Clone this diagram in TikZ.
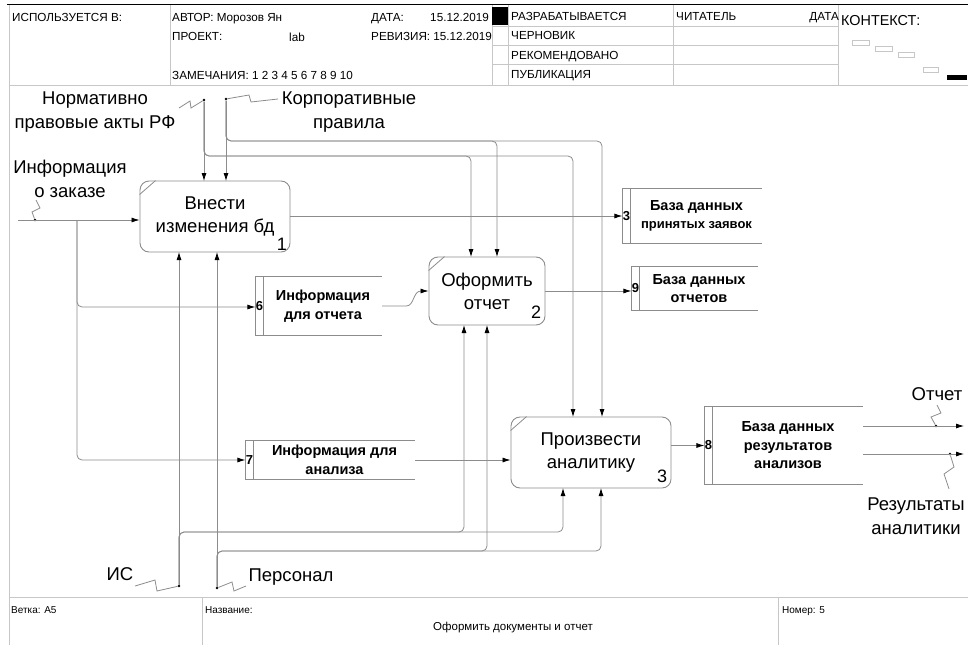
\documentclass[tikz,border=0pt]{standalone}
\usepackage{fontspec}
\setmainfont{Liberation Sans}
\usepackage{tikz}
\usetikzlibrary{arrows.meta}
\usetikzlibrary{positioning}
\colorlet{lines}{black!45}
\colorlet{frame}{black!22}
% open data store: number cell #1 and text cell #2
\newcommand{\storeframe}[2]{%
\draw[StoreLine] (#2.north east) -- (#1.north west) -- (#1.south west) -- (#2.south east);
\draw[StoreLine] (#1.north east) -- (#1.south east)}
% corner mark of an activity box
\newcommand{\boxcorner}[1]{\draw[StoreLine] ([yshift=-14pt]#1.north west) -- ([xshift=16pt]#1.north west)}

\begin{document}
\begin{tikzpicture}[
x=1pt,y=-1pt,
Process/.style={draw=lines,line width=0.9pt,rounded corners=9pt,align=center,inner sep=0pt,font=\fontsize{18.5}{23}\selectfont},
Store/.style={inner sep=0pt,align=center,font=\bfseries\fontsize{14.5}{18.5}\selectfont},
StoreNum/.style={inner sep=0pt,minimum width=8pt,font=\bfseries\fontsize{13}{14}\selectfont},
StoreLine/.style={draw=lines,line width=0.8pt},
Flow/.style={draw=lines,line width=0.8pt,-{Latex[length=8pt,width=5pt,color=black]}},
Line/.style={draw=lines,line width=0.8pt},
Label/.style={align=center,inner sep=0pt,font=\fontsize{18.5}{24}\selectfont},
BoxNum/.style={inner sep=0pt,font=\fontsize{18}{20}\selectfont},
Head/.style={anchor=base west,inner sep=0pt,font=\fontsize{11.7}{13}\selectfont},
Foot/.style={anchor=base west,inner sep=0pt,font=\fontsize{10}{12}\selectfont},
Dot/.style={fill=black,circle,inner sep=0pt,minimum size=2.6pt}
]
\useasboundingbox (0,0) rectangle (968,645);

% frame, header and footer
\draw[black,line width=1.5pt] (7,4.5) -- (968,4.5);
\draw[frame] (9,5) -- (9,645);
\draw[frame] (9,85) -- (968,85);
\draw[frame] (9,597) -- (968,597);
\foreach \xx in {170,492,508,673,838} \draw[frame] (\xx,5) -- (\xx,85);
\foreach \yy in {26,45,64} \draw[frame] (492,\yy) -- (838,\yy);
\draw[frame] (202,597) -- (202,645);
\draw[frame] (778,597) -- (778,645);
\fill[black] (492,7) rectangle (508,25);

\node[Head] (hUsed) at (12,21) {ИСПОЛЬЗУЕТСЯ В:};
\node[Head] (hAuthor) at (172,21) {АВТОР: Морозов Ян};
\node[Head] (hProject) at (172,40) {ПРОЕКТ:};
\node[Head] (hLab) at (289,41) {lab};
\node[Head] (hNotes) at (172,79) {ЗАМЕЧАНИЯ: 1 2 3 4 5 6 7 8 9 10};
\node[Head] (hDate) at (371,21) {ДАТА:};
\node[Head,anchor=base east] (hDateV) at (489,21) {15.12.2019};
\node[Head] (hRev) at (371,40) {РЕВИЗИЯ: 15.12.2019};
\node[Head] (hWork) at (511,20) {РАЗРАБАТЫВАЕТСЯ};
\node[Head] (hDraft) at (511,39.5) {ЧЕРНОВИК};
\node[Head] (hRecom) at (511,59) {РЕКОМЕНДОВАНО};
\node[Head] (hPub) at (511,78) {ПУБЛИКАЦИЯ};
\node[Head] (hReader) at (676,20) {ЧИТАТЕЛЬ};
\node[Head,anchor=base east] (hRDate) at (839,20) {ДАТА};
\node[Head,font=\fontsize{14.4}{16}\selectfont] (hContext) at (841,25) {КОНТЕКСТ:};
\draw[frame,line width=0.8pt] (852,40) rectangle (869,45);
\draw[frame,line width=0.8pt] (875,46) rectangle (892,51);
\draw[frame,line width=0.8pt] (898,52) rectangle (914,57);
\draw[frame,line width=0.8pt] (923,67) rectangle (938,72);
\fill[black] (947,75) rectangle (967,80);

\node[Foot] (fBranch) at (11,613) {Ветка: A5};
\node[Foot] (fName) at (205,613) {Название:};
\node[Foot,anchor=base,font=\fontsize{11.5}{13}\selectfont] (fTitle) at (513,630) {Оформить документы и отчет};
\node[Foot] (fNum) at (782,613) {Номер: 5};

% activities
\node[Process,minimum width=150pt,minimum height=71pt] (B1) at (215,216.5) {Внести\\изменения бд};
\node[BoxNum] (n1) at (282,244) {1};
\node[Process,minimum width=116pt,minimum height=68pt] (B2) at (487,291) {Оформить\\отчет};
\node[BoxNum] (n2) at (536,312) {2};
\node[Process,minimum width=160pt,minimum height=71pt] (B3) at (591,452.5) {Произвести\\аналитику};
\node[BoxNum] (n3b) at (662,476) {3};
\boxcorner{B1};
\boxcorner{B2};
\boxcorner{B3};

% data stores
\node[Store,minimum width=131pt,minimum height=54pt] (S3) at (696.5,216) {База данных\\{\fontsize{13}{14}\selectfont принятых заявок}};
\node[StoreNum,minimum height=54pt,left=0pt of S3] (d3) {3};
\node[Store,minimum width=118pt,minimum height=43pt] (S9) at (699,288.5) {База данных\\отчетов};
\node[StoreNum,minimum height=43pt,left=0pt of S9] (d9) {9};
\node[Store,minimum width=118pt,minimum height=58pt] (S6) at (323,306) {Информация\\для отчета};
\node[StoreNum,minimum height=58pt,left=0pt of S6] (d6) {6};
\node[Store,minimum width=161pt,minimum height=38pt] (S7) at (334.5,460) {Информация для\\анализа};
\node[StoreNum,minimum height=38pt,left=0pt of S7] (d7) {7};
\node[Store,minimum width=150pt,minimum height=77pt] (S8) at (788,445.5) {База данных\\результатов\\анализов};
\node[StoreNum,minimum height=77pt,left=0pt of S8] (d8) {8};
\storeframe{d3}{S3};
\storeframe{d9}{S9};
\storeframe{d6}{S6};
\storeframe{d7}{S7};
\storeframe{d8}{S8};

% outer labels
\node[Label] (lNorm) at (95,112) {Нормативно\\правовые акты РФ};
\node[Label] (lCorp) at (349,112) {Корпоративные\\правила};
\node[Label] (lOrder) at (70,179) {Информация\\о заказе};
\node[Label] (lIS) at (120,574) {ИС};
\node[Label] (lStaff) at (291,577) {Персонал};
\node[Label] (lRep) at (937,394) {Отчет};
\node[Label] (lRes) at (916,516) {Результаты\\аналитики};

% tunnel dots
\node[Dot] (Nd) at (204,100) {};
\node[Dot] (Kd) at (226,99) {};
\node[Dot] (Od) at (35,220) {};
\node[Dot] (Id) at (179,586) {};
\node[Dot] (Pd) at (217,588) {};
\node[Dot] (Rd) at (936,426) {};
\node[Dot] (Ad) at (950,454) {};

% squiggles
\draw[Line] (179,108) -- (190,101) -- (191,108) -- (Nd);
\draw[Line] (Kd) -- (249,95) -- (251,102) -- (278,99);
\draw[Line] (Od) -- (32,212) -- (40,208) -- (36,200);
\draw[Line] (135,586) -- (155,580) -- (157,591) -- (Id);
\draw[Line] (Pd) -- (232,582) -- (234,591) -- (246,586);
\draw[Line] (Rd) -- (931,417) -- (941,413) -- (937,405);
\draw[Line] (Ad) -- (954,467) -- (944,474) -- (949,489);

% ports
\coordinate (in1) at (18,220);
\coordinate (split) at (77,220);
\coordinate (c1a) at (204,181);
\coordinate (c1b) at (226,181);
\coordinate (c2a) at (471,257);
\coordinate (c2b) at (497,257);
\coordinate (c3a) at (573,417);
\coordinate (c3b) at (602,417);
\coordinate (m1a) at (179,252);
\coordinate (m1b) at (217,252);
\coordinate (m2a) at (464,325);
\coordinate (m2b) at (487,325);
\coordinate (m3a) at (563,488);
\coordinate (m3b) at (601,488);
\coordinate (out1) at (964,426);
\coordinate (out2) at (964,454);

% inputs
\draw[Flow] (in1) -- (B1.west |- in1);
\draw[Flow,rounded corners=5pt] (split) |- (d6.west |- 0,307);
\draw[Flow,rounded corners=5pt] (split) |- (d7.west);
\draw[Flow] (S6.east) -- ++(24,0) to[out=0,in=180] (B2.west -| 421,0) -- (B2.west);
\draw[Flow] (S7.east) -- (S7.east -| B3.west);

% outputs
\draw[Flow] (B1.east |- d3.west) -- (d3.west);
\draw[Flow] (B2.east) -- (B2.east -| d9.west);
\draw[Flow] (B3.east |- d8.west) -- (d8.west);
\draw[Flow] (S8.east |- out1) -- (out1);
\draw[Flow] (S8.east |- out2) -- (out2);

% controls
\draw[Flow] (Nd) -- (c1a);
\draw[Flow] (Kd) -- (c1b);
\draw[Flow,rounded corners=5pt] (Nd) |- (0,156 -| c2a) -- (c2a);
\draw[Flow,rounded corners=5pt] (Nd) |- (0,156 -| c3a) -- (c3a);
\draw[Flow,rounded corners=5pt] (Kd) |- (0,141 -| c2b) -- (c2b);
\draw[Flow,rounded corners=5pt] (Kd) |- (0,141 -| c3b) -- (c3b);

% mechanisms
\draw[Flow] (Id) -- (m1a);
\draw[Flow] (Pd) -- (m1b);
\draw[Flow,rounded corners=5pt] (Id) |- (0,532 -| m2a) -- (m2a);
\draw[Flow,rounded corners=5pt] (Id) |- (0,532 -| m3a) -- (m3a);
\draw[Flow,rounded corners=5pt] (Pd) |- (0,551 -| m2b) -- (m2b);
\draw[Flow,rounded corners=5pt] (Pd) |- (0,551 -| m3b) -- (m3b);
\end{tikzpicture}
\end{document}
